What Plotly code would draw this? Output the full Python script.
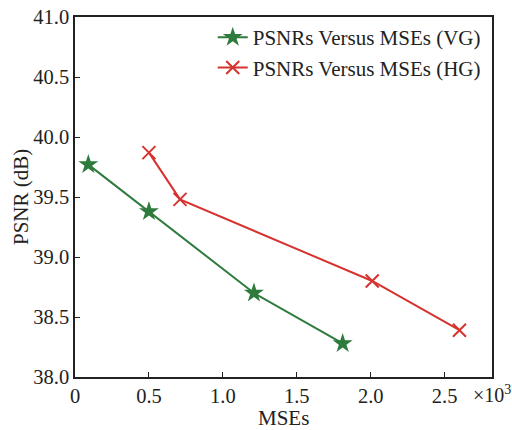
import plotly.graph_objects as go

vg_x = [0.09, 0.5, 1.21, 1.81]
vg_y = [39.77, 39.38, 38.70, 38.28]
hg_x = [0.5, 0.71, 2.01, 2.60]
hg_y = [39.87, 39.48, 38.80, 38.39]
x_ticks = [0, 0.5, 1.0, 1.5, 2.0, 2.5]
x_tick_labels = ["0", "0.5", "1.0", "1.5", "2.0", "2.5"]
y_ticks = [38.0, 38.5, 39.0, 39.5, 40.0, 40.5, 41.0]
y_tick_labels = ["38.0", "38.5", "39.0", "39.5", "40.0", "40.5", "41.0"]

GREEN = "#2e7b3d"
RED = "#d6322e"
FONT = "Liberation Serif"
INK = "#222"

fig = go.Figure()
fig.add_trace(go.Scatter(
    x=vg_x, y=vg_y, mode="lines+markers", name="PSNRs Versus MSEs (VG)",
    line=dict(color=GREEN, width=2),
    marker=dict(symbol="star", size=15, color=GREEN, line=dict(width=0)),
    legendgroup="a",
))
fig.add_trace(go.Scatter(
    x=hg_x, y=hg_y, mode="lines+markers", name="PSNRs Versus MSEs (HG)",
    line=dict(color=RED, width=2),
    marker=dict(symbol="x-thin", size=13, color=RED, line=dict(width=2, color=RED)),
    legendgroup="b",
))

axis_common = dict(
    showline=True, linecolor=INK, linewidth=1.5, mirror=True,
    ticks="inside", ticklen=5, tickwidth=1.2, tickcolor=INK,
    showgrid=False, zeroline=False, automargin=False,
    tickfont=dict(family=FONT, size=20.5, color=INK),
)
fig.update_xaxes(range=[0, 2.82], tickvals=x_ticks, ticktext=x_tick_labels, **axis_common)
fig.update_yaxes(range=[38.0, 41.0], tickvals=y_ticks, ticktext=y_tick_labels, **axis_common)

fig.add_annotation(text="MSEs", xref="paper", yref="paper", x=0.5, y=0.0,
                   xanchor="center", yanchor="middle", yshift=-41, showarrow=False,
                   font=dict(family=FONT, size=21, color=INK))
fig.add_annotation(text="PSNR (dB)", xref="paper", yref="paper", x=0.0, y=0.5,
                   xanchor="center", yanchor="middle", xshift=-54, textangle=-90, showarrow=False,
                   font=dict(family=FONT, size=21, color=INK))
fig.add_annotation(text="×10<sup>3</sup>", xref="paper", yref="paper", x=1.0, y=0.0,
                   xanchor="left", yanchor="top", yshift=-3, xshift=-21, showarrow=False,
                   font=dict(family=FONT, size=20, color=INK))

fig.update_layout(
    width=512, height=430,
    margin=dict(l=75, r=20, t=17, b=53),
    paper_bgcolor="white", plot_bgcolor="white",
    legend=dict(x=0.985, xanchor="right", y=1.0, yanchor="top",
                bgcolor="rgba(0,0,0,0)", font=dict(family=FONT, size=21, color=INK),
                tracegroupgap=0, traceorder="grouped"),
)

fig.write_html("out.html", post_script="document.body.style.margin='0';",
               config={"displayModeBar": False})
